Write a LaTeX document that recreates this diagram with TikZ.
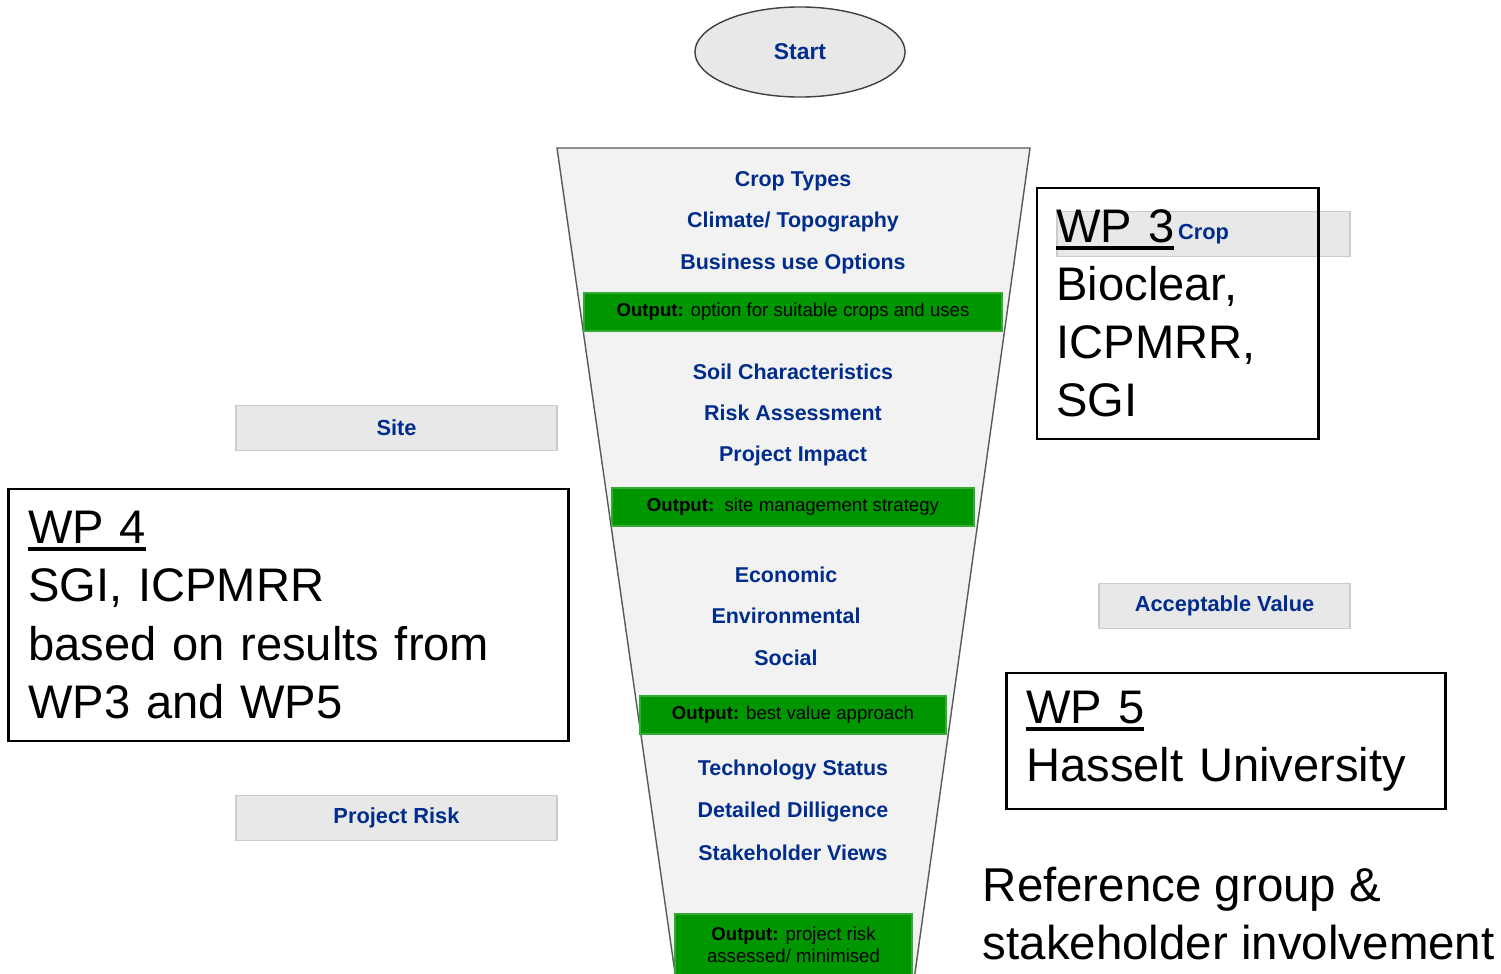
\documentclass[tikz,border=0pt]{standalone}
\usepackage{fontspec}
\setmainfont{Liberation Sans}
\usetikzlibrary{shapes.geometric}

\definecolor{itemblue}{RGB}{0,45,140}
\definecolor{outgreen}{RGB}{0,150,0}
\definecolor{boxgray}{RGB}{232,232,232}
\definecolor{funnelgray}{RGB}{242,242,242}

% underline for the WP headings
\newcommand{\wpul}[1]{\setbox0\hbox{#1}\rlap{\rule[-2.1pt]{\wd0}{1.1pt}}\box0}

\begin{document}
\begin{tikzpicture}[x=0.01cm, y=-0.01cm,
  item/.style={text=itemblue, font={\fontsize{6.1}{7}\selectfont\bfseries}, inner sep=0},
  outbar/.style={fill=outgreen, draw=outgreen!80!white, minimum height=0.38cm, inner sep=0, align=center, font={\fontsize{5.3}{6.3}\selectfont}},
  labelbox/.style={fill=boxgray, draw=black!20, minimum height=0.45cm, text=itemblue, font={\fontsize{6.2}{7}\selectfont\bfseries}},
  wpbox/.style={draw, thick, align=left, inner xsep=0.195cm, font={\fontsize{13.4}{16.5}\selectfont}}]

\useasboundingbox (0,0) rectangle (1501,973);

% start
\node[ellipse, draw=black!75, fill=boxgray, minimum width=2.1cm, minimum height=0.9cm, text=itemblue, font={\fontsize{6.5}{7}\selectfont\bfseries}] (start) at (800,52) {Start};

% funnel
\draw[draw=black!65, fill=funnelgray] (557,148) -- (1030,148) -- (914,980) -- (676,980) -- cycle;

% first stage
\node[item] (croptypes) at (793,181) {Crop Types};
\node[item] (climate) at (793,222) {Climate/ Topography};
\node[item] (business) at (793,264) {Business use Options};
\node[outbar, minimum width=4.18cm] (outone) at (793,312) {\textbf{Output:} option for suitable crops and uses};

% second stage
\node[item] (soil) at (793,372) {Soil Characteristics};
\node[item] (riskass) at (793,413) {Risk Assessment};
\node[item] (impact) at (793,456) {Project Impact};
\node[outbar, minimum width=3.62cm] (outtwo) at (793,507) {\textbf{Output:}\ \ site management strategy};

% third stage
\node[item] (economic) at (786,575) {Economic};
\node[item] (environ) at (786,616) {Environmental};
\node[item] (social) at (786,658) {Social};
\node[outbar, minimum width=3.06cm] (outthree) at (793,715) {\textbf{Output:} best value approach};

% fourth stage
\node[item] (techstatus) at (793,770) {Technology Status};
\node[item] (diligence) at (793,812) {Detailed Dilligence};
\node[item] (stakeviews) at (793,853) {Stakeholder Views};
\node[outbar, minimum width=2.37cm, minimum height=0.62cm] (outfour) at (793.5,945) {\textbf{Output:} project risk\\assessed/ minimised};

% side labels
\node[labelbox, minimum width=3.21cm] (site) at (396.5,428) {Site};
\node[labelbox, minimum width=3.21cm] (projrisk) at (396.5,818) {Project Risk};
\node[labelbox, minimum width=2.51cm] (accvalue) at (1224.5,606) {Acceptable Value};
\node[labelbox, minimum width=2.93cm, text width=2.6cm, align=center] (crop) at (1203.5,234) {Crop};

% work packages
\node[wpbox, minimum width=2.81cm, minimum height=2.51cm, text width=2.42cm] (wpthree) at (1177.5,313.5) {\wpul{WP 3}\\Bioclear,\\ICPMRR,\\SGI};
\node[wpbox, minimum width=5.59cm, minimum height=2.52cm, text width=5.2cm] (wpfour) at (288.5,615) {\wpul{WP 4}\\SGI, ICPMRR\\based on results from\\WP3 and WP5};
\node[wpbox, minimum width=4.38cm, minimum height=1.36cm, text width=3.99cm] (wpfive) at (1226,741) {\wpul{WP 5}\\Hasselt University};
\node[align=left, anchor=west, inner sep=0, font={\fontsize{13.5}{16.5}\selectfont}] (refgroup) at (982,914) {Reference group \&\\stakeholder involvement};

\end{tikzpicture}
\end{document}
